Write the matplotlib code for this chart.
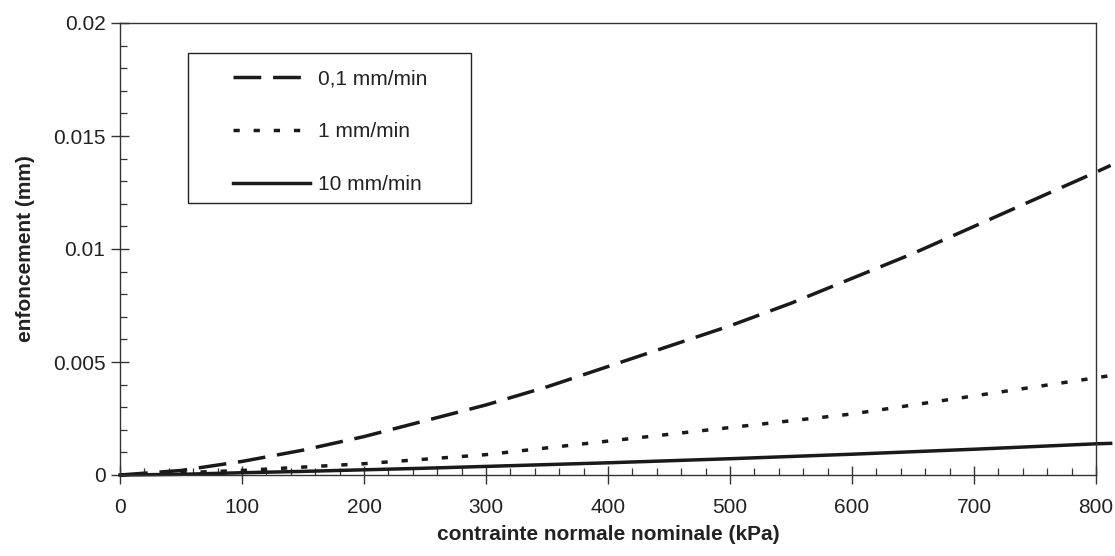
import numpy as np
import matplotlib.pyplot as plt
from matplotlib.patches import Rectangle
from matplotlib.ticker import MultipleLocator

plt.rcParams['font.family'] = ['Liberation Sans', 'DejaVu Sans']

# contrainte normale nominale (kPa)
contrainte = [0, 50, 100, 150, 200, 250, 300, 350, 400, 450, 500, 550, 600, 650, 700, 750, 800, 812]
# enfoncement (mm) for each loading rate
enf_01 = [0, 0.0002, 0.0006, 0.0011, 0.0017, 0.0024, 0.0031, 0.0039, 0.0048, 0.0057, 0.0066, 0.0076,
          0.0087, 0.0098, 0.0110, 0.0122, 0.0134, 0.0137]
enf_1 = [0, 0.0001, 0.0002, 0.00035, 0.0005, 0.0007, 0.0009, 0.0012, 0.0015, 0.0018, 0.0021, 0.0024,
         0.0027, 0.0031, 0.0035, 0.0039, 0.0043, 0.0044]
enf_10 = [0, 0.00003, 0.0001, 0.00016, 0.00023, 0.0003, 0.00038, 0.00046, 0.00054, 0.00063, 0.00072,
          0.00082, 0.00092, 0.00103, 0.00114, 0.00126, 0.00138, 0.0014]
labels = ['0,1 mm/min', '1 mm/min', '10 mm/min']

fs = 15
fig = plt.figure(figsize=(11.15, 5.56), dpi=100)
ax = fig.add_axes([120/1115, 1 - 475/556, 976/1115, 452/556])

lw = 2.5
ink = '#1a1a1a'
ax.plot(contrainte, enf_01, color=ink, lw=lw, dashes=(8, 3.4), clip_on=False, label=labels[0])
ax.plot(contrainte, enf_1, color=ink, lw=lw, dashes=(1.8, 4.0), clip_on=False, label=labels[1])
ax.plot(contrainte, enf_10, color=ink, lw=lw, clip_on=False, label=labels[2])

ax.set_xlim(0, 800)
ax.set_ylim(0, 0.02)
ax.xaxis.set_major_locator(MultipleLocator(100))
ax.xaxis.set_minor_locator(MultipleLocator(20))
ax.yaxis.set_minor_locator(MultipleLocator(0.001))
ax.set_yticks([0, 0.005, 0.01, 0.015, 0.02])
ax.set_yticklabels(['0', '0.005', '0.01', '0.015', '0.02'])

for s in ax.spines.values():
    s.set_linewidth(1.0)
    s.set_color('#333333')

ax.tick_params(which='major', direction='inout', length=13, width=1.0, color='#333333',
               labelsize=fs, labelcolor='#222222', top=False, right=False)
ax.tick_params(which='minor', direction='in', length=5, width=0.9, color='#333333', top=False, right=False)
ax.tick_params(axis='x', which='major', pad=10)
ax.tick_params(axis='y', which='major', pad=4)

ax.set_xlabel('contrainte normale nominale (kPa)', fontsize=fs, fontweight='bold', labelpad=6, color='#222222')
ax.set_ylabel('enfoncement (mm)', fontsize=fs, fontweight='bold', labelpad=13, color='#222222')

# legend frame drawn separately, entries placed inside it
ax.add_patch(Rectangle((0.0697, 0.602), 0.29, 0.332, transform=ax.transAxes, fill=True,
                       facecolor='white', edgecolor='#222222', lw=1.0, zorder=4))
leg = ax.legend(loc='upper left', bbox_to_anchor=(0.116, 0.897), fontsize=fs, frameon=False,
                handlelength=3.7, handletextpad=0.35, labelspacing=1.62, borderpad=0,
                borderaxespad=0)
leg.set_zorder(5)
for t in leg.get_texts():
    t.set_color('#222222')

fig.savefig('out.png', dpi=100)
